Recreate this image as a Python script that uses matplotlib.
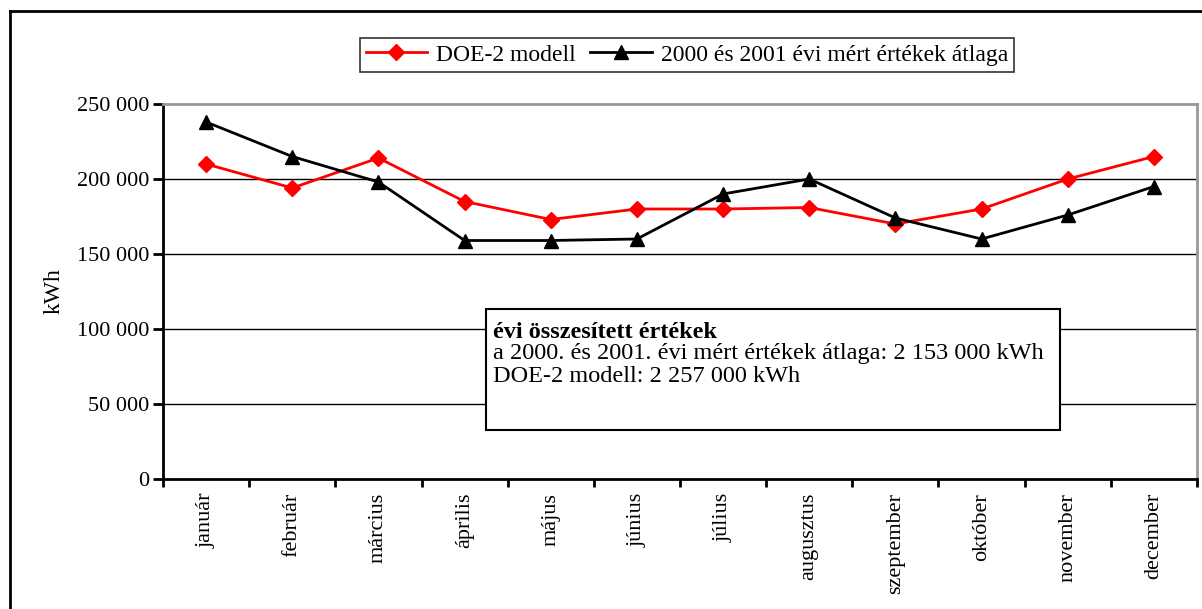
import matplotlib.pyplot as plt
from matplotlib.patches import Rectangle
from matplotlib.lines import Line2D
from matplotlib.ticker import FuncFormatter

plt.rcParams['font.family'] = ['Liberation Serif', 'DejaVu Serif']

months = ['január', 'február', 'március', 'április', 'május', 'június',
          'július', 'augusztus', 'szeptember', 'október', 'november', 'december']
doe2 = [210000, 194000, 214000, 185000, 173000, 180000,
        180000, 181000, 170000, 180000, 200000, 215000]
measured = [238000, 215000, 198000, 159000, 159000, 160000,
            190000, 200000, 174000, 160000, 176000, 195000]
yticks = [0, 50000, 100000, 150000, 200000, 250000]

FS = 16
W, H = 1202, 609
fig = plt.figure(figsize=(W / 100, H / 100), dpi=100)
ax = fig.add_axes([163 / W, 1 - 479 / H, (1197 - 163) / W, (479 - 104) / H])

x = [i + 0.5 for i in range(len(months))]
ax.plot(x, doe2, color='#ff0000', lw=2, marker='D', ms=8.5, label='DOE-2 modell', zorder=3)
ax.plot(x, measured, color='black', lw=2, marker='^', ms=10.5,
        label='2000 és 2001 évi mért értékek átlaga', zorder=4)

ax.set_xlim(0, 12)
ax.set_ylim(0, 250000)
ax.set_yticks(yticks)
ax.yaxis.set_major_formatter(FuncFormatter(lambda v, p: f'{int(v):,}'.replace(',', ' ')))
ax.set_xticks(range(13))
ax.set_xticklabels([])
ax.set_xticks(x, minor=True)
ax.set_xticklabels(months, minor=True, rotation=90, fontsize=FS, va='top')
ax.tick_params(axis='x', which='minor', length=0, pad=10)
ax.tick_params(axis='x', which='major', length=6, width=2, direction='out')
ax.tick_params(axis='y', length=7, width=2, direction='out', labelsize=FS, pad=3)

for v in yticks[1:-1]:
    ax.axhline(v, color='black', lw=1, zorder=1)

ax.spines['left'].set_linewidth(2)
ax.spines['bottom'].set_linewidth(2)
ax.spines['top'].set_color('#999999')
ax.spines['right'].set_color('#999999')
ax.spines['top'].set_linewidth(2)
ax.spines['right'].set_linewidth(2)

ax.set_ylabel('kWh', fontsize=17, labelpad=9)

leg = fig.legend(loc='center', bbox_to_anchor=(687 / W, 1 - 55 / H), ncol=2,
                 fontsize=17, frameon=True, fancybox=False, edgecolor='black',
                 handlelength=2.6, columnspacing=0.6, handletextpad=0.4,
                 borderpad=0.25, borderaxespad=0)
leg.get_frame().set_linewidth(1.2)

# summary box
fig.patches.append(Rectangle((486 / W, 1 - 430 / H), (1060 - 486) / W, (430 - 309) / H,
                             transform=fig.transFigure, facecolor='white',
                             edgecolor='black', lw=1.5, zorder=5))
fig.text(493 / W, 1 - 332 / H, 'évi összesített értékek', fontsize=17.5,
         fontweight='bold', va='center', zorder=6)
fig.text(493 / W, 1 - 354 / H, 'a 2000. és 2001. évi mért értékek átlaga: 2 153 000 kWh',
         fontsize=17.5, va='center', zorder=6)
fig.text(493 / W, 1 - 376 / H, 'DOE-2 modell: 2 257 000 kWh', fontsize=17.5,
         va='center', zorder=6)

# outer frame (left and top only visible)
fig.lines.append(Line2D([10 / W, 10 / W], [0, 1 - 11 / H], transform=fig.transFigure,
                        color='black', lw=2))
fig.lines.append(Line2D([10 / W, 1], [1 - 11 / H, 1 - 11 / H], transform=fig.transFigure,
                        color='black', lw=2))

fig.savefig('out.png', dpi=100)
